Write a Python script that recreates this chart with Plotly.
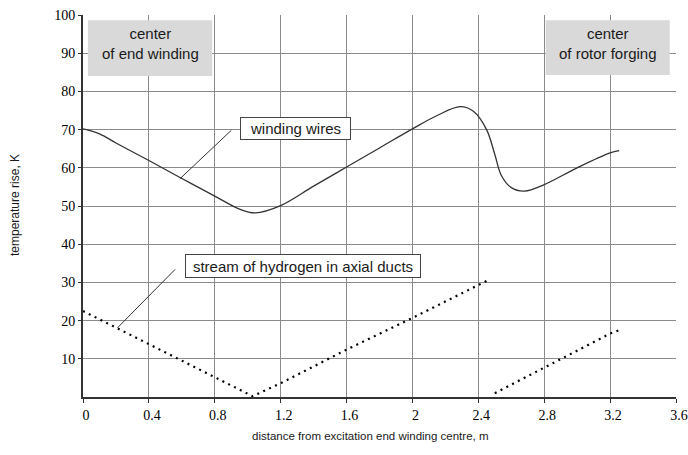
import plotly.graph_objects as go

# winding wires temperature rise
wind_x = [0, 0.1, 0.2, 0.4, 0.6, 0.8, 0.95, 1.045, 1.2, 1.4, 1.6, 1.8, 2.0, 2.15, 2.29, 2.37, 2.45, 2.5, 2.54, 2.6, 2.68, 2.8, 3.0, 3.2, 3.255]
wind_y = [70.2, 68.9, 66.5, 61.9, 57.2, 52.6, 49.2, 48.2, 50.1, 55.2, 60.2, 65.2, 70.2, 73.7, 76.0, 74.8, 70.0, 63.5, 58.0, 54.8, 53.9, 55.6, 60.0, 63.9, 64.5]

# hydrogen stream in axial ducts
hyd1_x = [0, 0.4, 0.8, 1.03, 1.2, 1.6, 2.0, 2.4, 2.47]
hyd1_y = [22.5, 13.8, 5.0, 0.2, 3.6, 12.4, 20.7, 29.4, 30.8]
hyd2_x = [2.5, 2.8, 3.2, 3.25]
hyd2_y = [1.0, 7.7, 16.6, 17.4]

x_ticks = [0, 0.4, 0.8, 1.2, 1.6, 2, 2.4, 2.8, 3.2, 3.6]
x_tick_text = ["0", "0.4", "0.8", "1.2", "1.6", "2", "2.4", "2.8", "3.2", "3.6"]
y_ticks = [10, 20, 30, 40, 50, 60, 70, 80, 90, 100]

fig = go.Figure()
fig.add_trace(go.Scatter(x=wind_x, y=wind_y, mode="lines",
                         line=dict(color="#333333", width=1.3, shape="spline", smoothing=1.0),
                         showlegend=False, hoverinfo="skip"))
fig.add_trace(go.Scatter(x=hyd1_x, y=hyd1_y, mode="lines",
                         line=dict(color="#000000", width=2.2, dash="2px,4.5px"),
                         showlegend=False, hoverinfo="skip"))
fig.add_trace(go.Scatter(x=hyd2_x, y=hyd2_y, mode="lines",
                         line=dict(color="#000000", width=2.2, dash="2px,4.5px"),
                         showlegend=False, hoverinfo="skip"))

sans = "Liberation Sans, Arial, sans-serif"
serif = "Liberation Serif, Times New Roman, serif"

# grey label boxes
fig.add_shape(type="rect", x0=0.03, x1=0.784, y0=84.0, y1=98.6,
              fillcolor="#d9d9d9", line=dict(width=0), layer="above")
fig.add_shape(type="rect", x0=2.809, x1=3.562, y0=84.3, y1=98.6,
              fillcolor="#d9d9d9", line=dict(width=0), layer="above")

# leader lines
fig.add_shape(type="line", x0=0.90, y0=69.8, x1=0.59, y1=57.2, line=dict(color="#333333", width=1))
fig.add_shape(type="line", x0=0.559, y0=33.4, x1=0.209, y1=18.1, line=dict(color="#333333", width=1))

# label texts
fig.add_annotation(x=0.407, y=92.5, text="center<br>of end winding", showarrow=False,
                   font=dict(family=sans, size=15, color="#1a1a1a"))
fig.add_annotation(x=3.185, y=92.5, text="center<br>of rotor forging", showarrow=False,
                   font=dict(family=sans, size=15, color="#1a1a1a"))
fig.add_annotation(x=1.292, y=70.4, text="winding wires", showarrow=False,
                   font=dict(family=sans, size=15, color="#1a1a1a"),
                   bgcolor="white", bordercolor="#444444", borderwidth=1,
                   width=109, height=21, borderpad=0)
fig.add_annotation(x=1.337, y=34.2, text="stream of hydrogen in axial ducts", showarrow=False,
                   font=dict(family=sans, size=15, color="#1a1a1a"),
                   bgcolor="white", bordercolor="#444444", borderwidth=1,
                   width=234, height=22, borderpad=0)

# axis titles
fig.add_annotation(xref="paper", yref="paper", x=-0.1147, y=0.5026,
                   xanchor="center", yanchor="middle",
                   text="temperature rise, K", textangle=-90, showarrow=False,
                   font=dict(family=sans, size=12, color="#1a1a1a"))
fig.add_annotation(xref="paper", yref="paper", x=0.484, y=-0.103,
                   xanchor="center", yanchor="middle",
                   text="distance from excitation end winding centre, m", showarrow=False,
                   font=dict(family=sans, size=11.5, color="#1a1a1a"))

fig.update_xaxes(range=[0, 3.6], tickvals=x_ticks, ticktext=x_tick_text,
                 showgrid=True, gridcolor="#8a8a8a", gridwidth=1,
                 showline=True, linecolor="#333333", linewidth=2,
                 ticks="outside", ticklen=4, tickcolor="#333333", tickwidth=1,
                 tickfont=dict(family=serif, size=14, color="#000000"),
                 ticklabeloverflow="allow", ticklabelshift=3,
                 zeroline=False, fixedrange=True, automargin=False)
fig.update_yaxes(range=[0, 100], tickvals=y_ticks,
                 showgrid=True, gridcolor="#8a8a8a", gridwidth=1,
                 showline=True, linecolor="#333333", linewidth=2,
                 ticks="outside", ticklen=3, tickcolor="#333333", tickwidth=1,
                 tickfont=dict(family=serif, size=14, color="#000000"),
                 ticklabeloverflow="allow",
                 zeroline=False, fixedrange=True, automargin=False)

fig.update_layout(width=688, height=455, margin=dict(l=83, r=12, t=15, b=58),
                  paper_bgcolor="white", plot_bgcolor="white", showlegend=False)

fig.write_html("out.html", config={"displayModeBar": False},
               post_script="document.body.style.margin='0px';document.body.style.padding='0px';")
